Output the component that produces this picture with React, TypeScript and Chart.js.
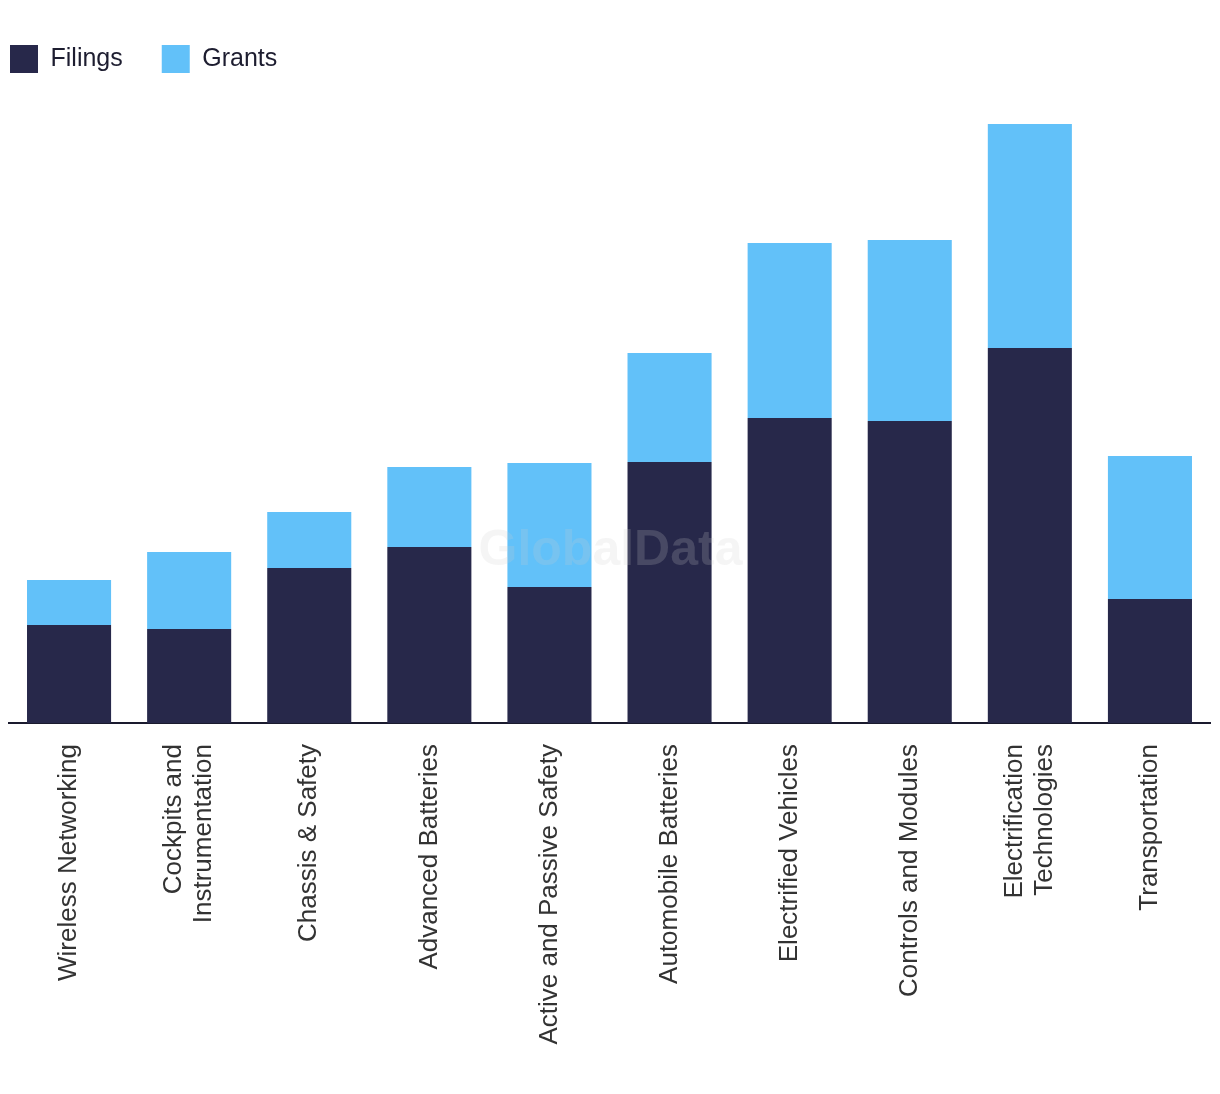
import React, { useEffect, useRef } from "react";
import { Chart, registerables } from "chart.js";

Chart.register(...registerables);

const categories: (string | string[])[] = [
  "Wireless Networking",
  ["Cockpits and", "Instrumentation"],
  "Chassis & Safety",
  "Advanced Batteries",
  "Active and Passive Safety",
  "Automobile Batteries",
  "Electrified Vehicles",
  "Controls and Modules",
  ["Electrification", "Technologies"],
  "Transportation",
];

const filings = [98, 94, 155, 176, 136, 261, 305, 302, 375, 124];
const grants = [45, 77, 56, 80, 124, 109, 175, 181, 224, 143];

const seriesNames = ["Filings", "Grants"];
const seriesColors = ["#27284a", "#62c1f9"];

const Y_MAX = 640;
const LEGEND_PAD = 39;
const OFFSET = LEGEND_PAD - 10;

const watermark = {
  id: "watermark",
  afterDatasetsDraw(chart: any) {
    const { ctx, chartArea } = chart;
    ctx.save();
    ctx.font = "bold 50px 'Liberation Sans', Arial, sans-serif";
    ctx.fillStyle = "rgba(204,204,204,0.2)";
    ctx.textAlign = "center";
    ctx.textBaseline = "middle";
    ctx.fillText("GlobalData", (chartArea.left + chartArea.right) / 2 + 1, chartArea.bottom - 172);
    ctx.restore();
  },
};

const centerMultiline = {
  id: "centerMultiline",
  beforeDraw(chart: any) {
    const scale = chart.scales.x;
    const items = scale.getLabelItems();
    items.forEach((it: any) => {
      if (Array.isArray(it.label) && !it.__shifted) {
        const shift = ((it.label.length - 1) * 30) / 2;
        it.options.translation = [it.options.translation[0] - shift, it.options.translation[1]];
        it.__shifted = true;
      }
    });
  },
};

export default function App() {
  const ref = useRef<HTMLCanvasElement | null>(null);
  useEffect(() => {
    if (!ref.current) return;
    const chart = new Chart(ref.current, {
      type: "bar",
      data: {
        labels: categories,
        datasets: [
          { label: seriesNames[0], data: filings, backgroundColor: seriesColors[0], borderWidth: 0 },
          { label: seriesNames[1], data: grants, backgroundColor: seriesColors[1], borderWidth: 0 },
        ],
      },
      options: {
        responsive: false,
        animation: false,
        layout: { padding: { top: 6, left: 0, right: 10, bottom: 0 } },
        datasets: { bar: { barPercentage: 0.7, categoryPercentage: 1.0 } },
        plugins: {
          legend: {
            position: "top",
            align: "start",
            labels: {
              boxWidth: 28,
              boxHeight: 28,
              padding: LEGEND_PAD,
              color: "#1d1d30",
              font: { family: "'Liberation Sans', Arial, sans-serif", size: 25 },
            },
          },
          tooltip: { enabled: false },
        },
        scales: {
          x: {
            stacked: true,
            grid: { display: false },
            border: { display: true, color: "#1a1a2e", width: 2 },
            ticks: {
              autoSkip: false,
              minRotation: 90,
              maxRotation: 90,
              padding: 13,
              color: "#333333",
              font: { family: "'Liberation Sans', Arial, sans-serif", size: 26, lineHeight: 1.15 },
            },
            afterFit(scale: any) {
              scale.height = 371;
            },
          },
          y: {
            stacked: true,
            min: 0,
            max: Y_MAX,
            grid: { display: false },
            border: { display: false },
            ticks: { display: false },
            afterFit(scale: any) {
              scale.width = 38;
            },
          },
        },
      },
      plugins: [watermark, centerMultiline],
    });
    return () => chart.destroy();
  }, []);
  return (
    <div style={{ position: "absolute", left: -OFFSET, top: 0, width: 1220 + OFFSET, height: 1094, overflow: "hidden" }}>
      <canvas ref={ref} width={1220 + OFFSET} height={1094} style={{ display: "block" }} />
    </div>
  );
}
